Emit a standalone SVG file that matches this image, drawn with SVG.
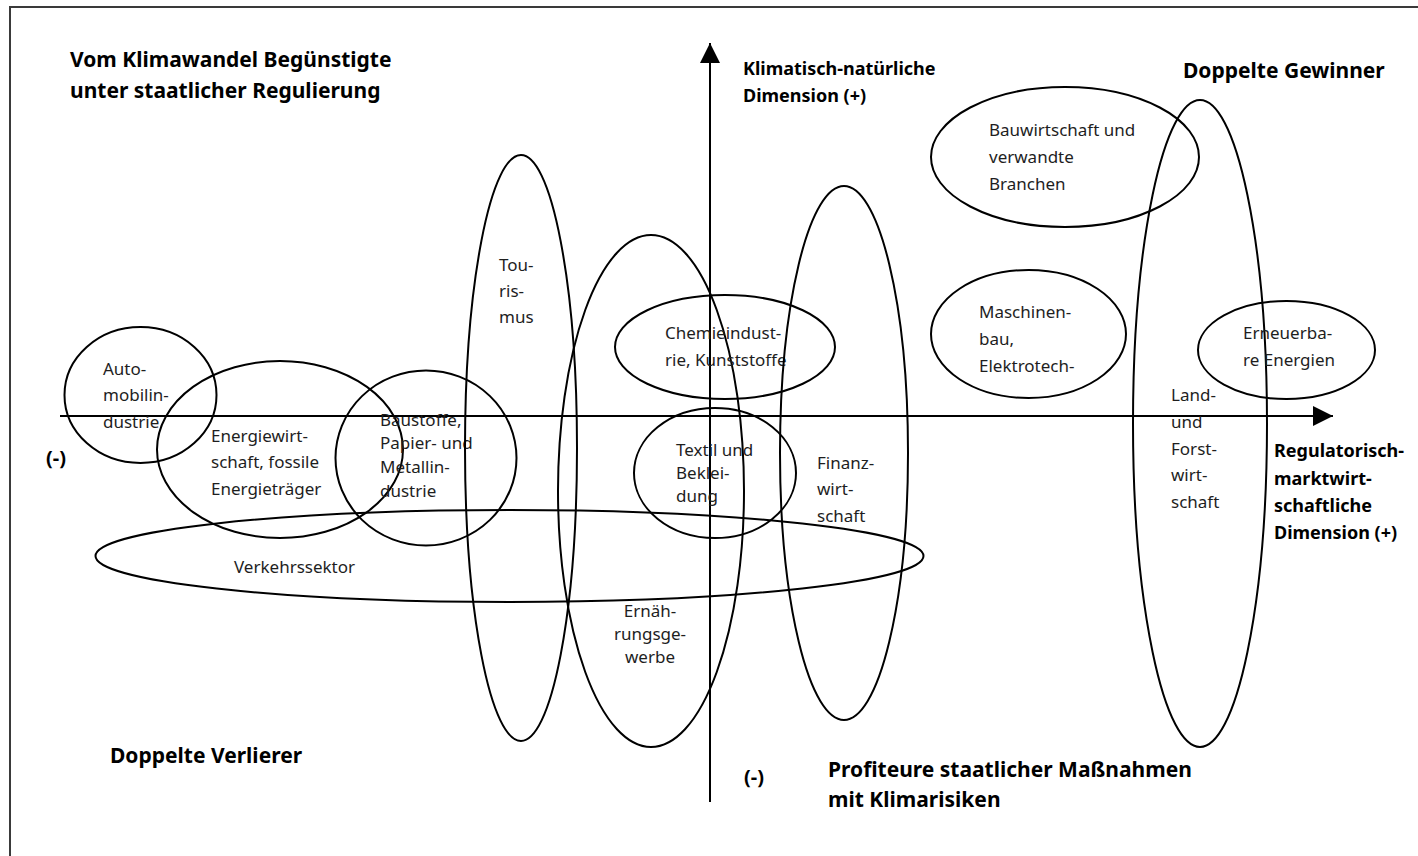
<svg xmlns="http://www.w3.org/2000/svg" width="1418" height="856" viewBox="0 0 1418 856">
<style>
.bg{fill:#ffffff}
.frame{fill:none;stroke:#3a3a3a;stroke-width:2}
.ell{fill:none;stroke:#000;stroke-width:2}
.axis{fill:none;stroke:#000;stroke-width:2}
.lbl{font-family:"Noto Sans","Open Sans","Liberation Sans",sans-serif;font-size:17px;fill:#1e1e1e}
.hd{font-family:"Noto Sans","Open Sans","Liberation Sans",sans-serif;font-size:21px;font-weight:bold;fill:#000}
.hs{font-family:"Noto Sans","Open Sans","Liberation Sans",sans-serif;font-size:18px;font-weight:bold;fill:#000}
.mn{font-family:"Noto Sans","Open Sans","Liberation Sans",sans-serif;font-size:20px;font-weight:bold;fill:#000}
</style>
<defs>
<marker id="arr" markerUnits="userSpaceOnUse" markerWidth="20" markerHeight="20" viewBox="0 0 18 18" refX="18" refY="9" orient="auto">
<path d="M0,0 L18,9 L0,18 Z" fill="#000"/>
</marker>
</defs>
<rect class="bg" x="0" y="0" width="1418" height="856"/>
<rect class="frame" x="10" y="7" width="1430" height="870"/>

<g id="connectors">
<line class="axis" x1="60" y1="416" x2="1333" y2="416" marker-end="url(#arr)"/>
<line class="axis" x1="710" y1="802" x2="710" y2="43" marker-end="url(#arr)"/>
</g>

<g id="quadrant-labels">
<text class="hd" x="70" y="67">Vom Klimawandel Begünstigte</text>
<text class="hd" x="70" y="98">unter staatlicher Regulierung</text>
<text class="hd" x="1183" y="78">Doppelte Gewinner</text>
<text class="hd" x="110" y="763">Doppelte Verlierer</text>
<text class="hd" x="828" y="777">Profiteure staatlicher Maßnahmen</text>
<text class="hd" x="828" y="807">mit Klimarisiken</text>
</g>

<g id="axis-labels">
<text class="hs" x="743" y="75">Klimatisch-natürliche</text>
<text class="hs" x="743" y="102">Dimension (+)</text>
<text class="hs" x="1274" y="457">Regulatorisch-</text>
<text class="hs" x="1274" y="485">marktwirt-</text>
<text class="hs" x="1274" y="512">schaftliche</text>
<text class="hs" x="1274" y="539">Dimension (+)</text>
<text class="mn" x="46" y="465">(-)</text>
<text class="mn" x="744" y="784">(-)</text>
</g>

<g id="automobil">
<ellipse class="ell" cx="140.5" cy="395" rx="76" ry="68"/>
<text class="lbl" x="103" y="375">Auto-</text>
<text class="lbl" x="103" y="401">mobilin-</text>
<text class="lbl" x="103" y="428">dustrie</text>
</g>

<g id="energie">
<ellipse class="ell" cx="280" cy="449.5" rx="123" ry="88.5"/>
<text class="lbl" x="211" y="442">Energiewirt-</text>
<text class="lbl" x="211" y="468">schaft, fossile</text>
<text class="lbl" x="211" y="495">Energieträger</text>
</g>

<g id="baustoffe">
<ellipse class="ell" cx="426" cy="458" rx="90.5" ry="87.5"/>
<text class="lbl" x="380" y="426">Baustoffe,</text>
<text class="lbl" x="380" y="449">Papier- und</text>
<text class="lbl" x="380" y="473">Metallin-</text>
<text class="lbl" x="380" y="497">dustrie</text>
</g>

<g id="verkehr">
<ellipse class="ell" cx="509.5" cy="556" rx="414" ry="46"/>
<text class="lbl" x="234" y="573">Verkehrssektor</text>
</g>

<g id="tourismus">
<ellipse class="ell" cx="521" cy="448" rx="56" ry="293"/>
<text class="lbl" x="499" y="271">Tou-</text>
<text class="lbl" x="499" y="297">ris-</text>
<text class="lbl" x="499" y="323">mus</text>
</g>

<g id="ernaehrung">
<ellipse class="ell" cx="651" cy="491" rx="93" ry="256"/>
<text class="lbl" x="650" y="617" text-anchor="middle">Ernäh-</text>
<text class="lbl" x="650" y="640" text-anchor="middle">rungsge-</text>
<text class="lbl" x="650" y="663" text-anchor="middle">werbe</text>
</g>

<g id="chemie">
<ellipse class="ell" cx="725" cy="347" rx="110" ry="52"/>
<text class="lbl" x="665" y="339">Chemieindust-</text>
<text class="lbl" x="665" y="366">rie, Kunststoffe</text>
</g>

<g id="textil">
<ellipse class="ell" cx="715" cy="473" rx="81" ry="65"/>
<text class="lbl" x="676" y="456">Textil und</text>
<text class="lbl" x="676" y="479">Beklei-</text>
<text class="lbl" x="676" y="502">dung</text>
</g>

<g id="finanz">
<ellipse class="ell" cx="844" cy="453" rx="64" ry="267"/>
<text class="lbl" x="817" y="469">Finanz-</text>
<text class="lbl" x="817" y="495">wirt-</text>
<text class="lbl" x="817" y="522">schaft</text>
</g>

<g id="bauwirtschaft">
<ellipse class="ell" cx="1065" cy="157" rx="134" ry="70"/>
<text class="lbl" x="989" y="136">Bauwirtschaft und</text>
<text class="lbl" x="989" y="163">verwandte</text>
<text class="lbl" x="989" y="190">Branchen</text>
</g>

<g id="maschinenbau">
<ellipse class="ell" cx="1028.5" cy="334" rx="97.5" ry="64"/>
<text class="lbl" x="979" y="318">Maschinen-</text>
<text class="lbl" x="979" y="345">bau,</text>
<text class="lbl" x="979" y="372">Elektrotech-</text>
</g>

<g id="landforst">
<ellipse class="ell" cx="1200" cy="423.5" rx="67" ry="323.5"/>
<text class="lbl" x="1171" y="401">Land-</text>
<text class="lbl" x="1171" y="428">und</text>
<text class="lbl" x="1171" y="455">Forst-</text>
<text class="lbl" x="1171" y="481">wirt-</text>
<text class="lbl" x="1171" y="508">schaft</text>
</g>

<g id="erneuerbare">
<ellipse class="ell" cx="1286.5" cy="350" rx="88.5" ry="49"/>
<text class="lbl" x="1243" y="339">Erneuerba-</text>
<text class="lbl" x="1243" y="366">re Energien</text>
</g>
</svg>
